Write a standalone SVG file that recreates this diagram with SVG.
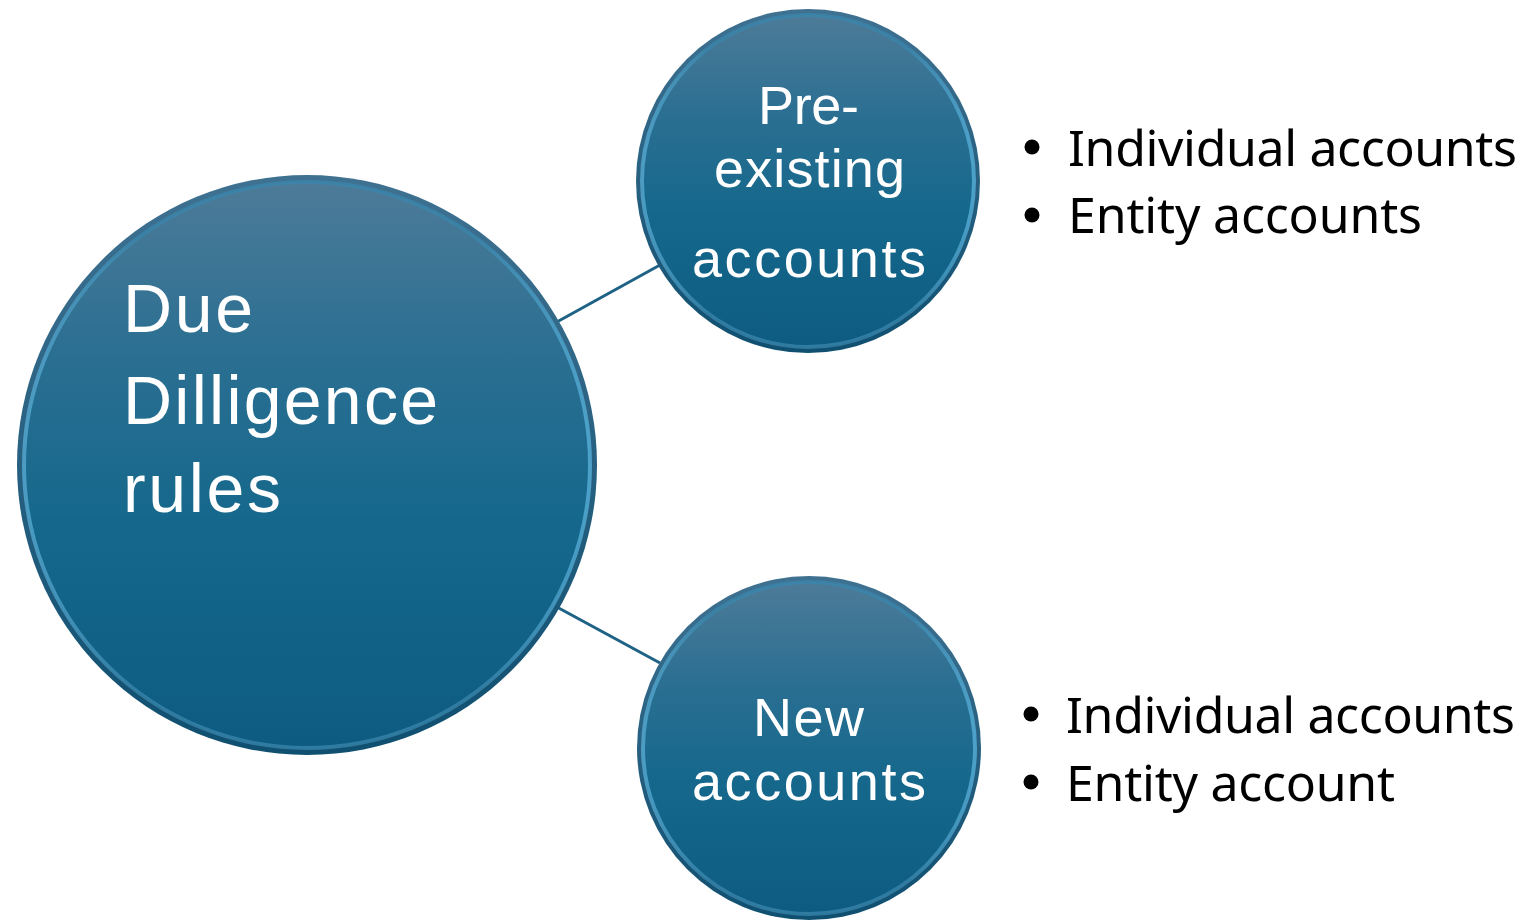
<svg xmlns="http://www.w3.org/2000/svg" width="1525" height="920" viewBox="0 0 1525 920">
<defs>
<linearGradient id="fillG" x1="0" y1="0" x2="0" y2="1">
<stop offset="0" stop-color="#4d7b98"/>
<stop offset="0.3" stop-color="#2b6f92"/>
<stop offset="0.6" stop-color="#15688c"/>
<stop offset="1" stop-color="#0e5b81"/>
</linearGradient>
<linearGradient id="rimG" x1="0" y1="0" x2="1" y2="0">
<stop offset="0" stop-color="#5aaed6"/>
<stop offset="0.2" stop-color="#3a86ad"/>
<stop offset="0.8" stop-color="#3a86ad"/>
<stop offset="1" stop-color="#5ab4de"/>
</linearGradient>
<linearGradient id="edgeG" x1="0" y1="0" x2="0" y2="1">
<stop offset="0" stop-color="#3f7191"/>
<stop offset="1" stop-color="#0f4f70"/>
</linearGradient>
</defs>
<style>
.edge{fill:url(#edgeG)}
.body{fill:url(#fillG);stroke:url(#rimG);stroke-width:4;stroke-opacity:0.75}
.lbl{font-family:"Liberation Sans",Arial,sans-serif;fill:#ffffff}
.bul{font-family:"Noto Sans","Open Sans","Liberation Sans",sans-serif;fill:#000000;font-size:50px}
.conn{stroke:#1e6285;stroke-width:3;fill:none}
</style>
<rect width="1525" height="920" fill="#ffffff"/>
<g id="connectors">
<line class="conn" x1="555" y1="323" x2="660" y2="265"/>
<line class="conn" x1="555" y1="606" x2="660" y2="663"/>
</g>
<g id="node-due">
<circle class="edge" cx="307" cy="465" r="290"/>
<circle class="body" cx="307" cy="465" r="283"/>
<text class="lbl" font-size="68" x="123" y="332" textLength="130">Due</text>
<text class="lbl" font-size="68" x="123" y="424" textLength="315">Dilligence</text>
<text class="lbl" font-size="68" x="123" y="512" textLength="158">rules</text>
</g>
<g id="node-pre">
<circle class="edge" cx="808" cy="181" r="172"/>
<circle class="body" cx="808" cy="181" r="166"/>
<text class="lbl" font-size="54" x="758" y="124" textLength="101">Pre-</text>
<text class="lbl" font-size="54" x="714" y="187" textLength="191">existing</text>
<text class="lbl" font-size="54" x="692" y="277" textLength="234">accounts</text>
</g>
<g id="node-new">
<circle class="edge" cx="809" cy="748" r="172"/>
<circle class="body" cx="809" cy="748" r="166"/>
<text class="lbl" font-size="54" x="753" y="736" textLength="111">New</text>
<text class="lbl" font-size="54" x="692" y="800" textLength="234">accounts</text>
</g>
<g id="list-pre">
<circle cx="1032" cy="147" r="7.5" fill="#000"/>
<circle cx="1032" cy="215" r="7.5" fill="#000"/>
<text class="bul" x="1068" y="166" textLength="449">Individual accounts</text>
<text class="bul" x="1068" y="233" textLength="354">Entity accounts</text>
</g>
<g id="list-new">
<circle cx="1031" cy="714" r="7.5" fill="#000"/>
<circle cx="1031" cy="782" r="7.5" fill="#000"/>
<text class="bul" x="1066" y="733" textLength="449">Individual accounts</text>
<text class="bul" x="1066" y="801" textLength="329">Entity account</text>
</g>
</svg>
